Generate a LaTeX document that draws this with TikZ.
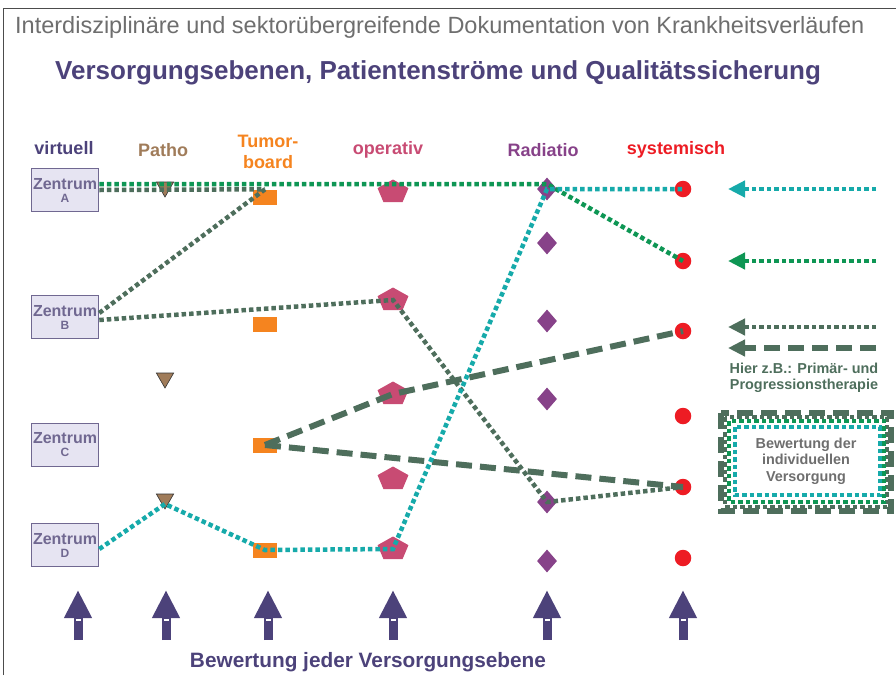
\documentclass[tikz,border=0pt]{standalone}
\usepackage{fontspec}
\setmainfont{Liberation Sans}
\usetikzlibrary{shapes.geometric,arrows.meta,calc}

\definecolor{virtcol}{RGB}{76,66,122}
\definecolor{pathcol}{RGB}{160,124,90}
\definecolor{tumcol}{RGB}{245,132,31}
\definecolor{opcol}{RGB}{200,75,115}
\definecolor{radcol}{RGB}{135,66,137}
\definecolor{syscol}{RGB}{237,28,36}
\definecolor{zfill}{RGB}{230,228,242}
\definecolor{zline}{RGB}{112,104,145}
\definecolor{cyancol}{RGB}{22,170,170}
\definecolor{greencol}{RGB}{14,150,84}
\definecolor{darkcol}{RGB}{78,110,92}
\definecolor{textgray}{RGB}{110,110,110}

\tikzset{
  zentrum/.style={draw=zline, fill=zfill, line width=1.6pt, minimum width=67pt, minimum height=43pt,
    inner sep=0pt, text=zline, font=\bfseries\fontsize{16}{16}\selectfont, align=center},
  head/.style={font=\bfseries\fontsize{18}{21}\selectfont, align=center},
  patho/.style={regular polygon, regular polygon sides=3, shape border rotate=180, fill=pathcol,
    draw=black!80, line width=0.6pt, minimum size=20pt, inner sep=0pt},
  tumor/.style={rectangle, fill=tumcol, minimum width=24pt, minimum height=15pt, inner sep=0pt},
  oper/.style={regular polygon, regular polygon sides=5, fill=opcol, minimum size=25pt, inner sep=0pt},
  radio/.style={diamond, fill=radcol, minimum width=20pt, minimum height=23pt, inner sep=0pt},
  syst/.style={circle, fill=syscol, minimum size=16.5pt, inner sep=0pt},
  dotline/.style={line width=4.5pt, dash pattern=on 4.5pt off 3pt},
  dashline/.style={line width=6pt, dash pattern=on 16pt off 8pt},
  legtip/.style={-{Triangle[length=17pt,width=16pt]}},
  legtext/.style={font=\bfseries\fontsize{14.4}{16.5}\selectfont, align=center}
}

\begin{document}
\begin{tikzpicture}[x=1pt, y=-1pt]
  \useasboundingbox (0,0) rectangle (896,675);
  \draw[black!70, line width=1pt] (3,675) -- (3,8) -- (896,8);

  % titles
  \node[anchor=west, inner sep=0pt, text=textgray, font=\fontsize{23.5}{24}\selectfont] (titel) at (15,27)
    {Interdisziplinäre und sektorübergreifende Dokumentation von Krankheitsverläufen};
  \node[anchor=west, inner sep=0pt, text=virtcol, font=\bfseries\fontsize{26}{27}\selectfont] (untertitel) at (55,73)
    {Versorgungsebenen, Patientenströme und Qualitätssicherung};

  % column heads
  \node[head, text=virtcol] (hz) at (64,148) {virtuell};
  \node[head, text=pathcol] (hp) at (163,150) {Patho};
  \node[head, text=tumcol] (ht) at (268,152) {Tumor-\\board};
  \node[head, text=opcol] (ho) at (388,150) {operativ};
  \node[head, text=radcol] (hr) at (543,150) {Radiatio};
  \node[head, text=syscol] (hs) at (676,150) {systemisch};

  % Zentren
  \foreach \y/\l [count=\i] in {190/A,317/B,445/C,545/D} {
    \node[zentrum] (z\i) at (65,\y) {Zentrum\\[-3pt]{\fontsize{12}{12}\selectfont\l}};
  }

  % markers of each level
  \foreach \y [count=\i] in {187,378,499} \node[patho] (p\i) at (165,\y) {};
  \foreach \y [count=\i] in {197,324,445,550} \node[tumor] (t\i) at (265,\y) {};
  \foreach \y [count=\i] in {192,300,394,479,549} {
    \begin{scope}[shift={(393,\y)}, xscale=1.3]
      \node[oper, transform shape] (o\i) at (0,0) {};
    \end{scope}
  }
  \foreach \y [count=\i] in {189,243,321,399,502,561} \node[radio] (r\i) at (547,\y) {};
  \foreach \y [count=\i] in {189,261,331,416,487,558} \node[syst] (s\i) at (683,\y) {};

  % patient flows
  \draw[dotline, greencol] ($(z1.east)+(0,-6)$) -- ($(r1.center)+(0,-5)$) -- (s2.center);
  \draw[dotline, darkcol] (z1.east) -- (t1.north);
  \draw[dotline, darkcol] ($(z2.east)+(0,-4)$) -- (t1.north);
  \draw[dotline, darkcol] ($(z2.east)+(0,3)$) -- (o2.center) -- (r5.center) -- (s5.center);
  \draw[dashline, darkcol] (t3.center) -- (o3.center) -- (s3.center);
  \draw[dashline, darkcol] (t3.center) -- (s5.center);
  \draw[dotline, cyancol] ($(z4.east)+(0,4)$) -- ($(p3.center)+(0,5)$) -- (t4.center) -- (o5.center)
    -- (r1.center) -- (s1.center);

  % legend
  \coordinate (l1) at (876,189); \coordinate (m1) at (728,189);
  \coordinate (l2) at (876,261); \coordinate (m2) at (728,261);
  \coordinate (l3) at (876,327); \coordinate (m3) at (728,327);
  \coordinate (l4) at (876,348); \coordinate (m4) at (728,348);
  \draw[dotline, cyancol, legtip] (l1) -- (m1);
  \draw[dotline, greencol, legtip] (l2) -- (m2);
  \draw[dotline, darkcol, legtip] (l3) -- (m3);
  \draw[dashline, darkcol, legtip] (l4) -- (m4);
  \node[legtext, text=darkcol] (hier) at (804,378) {Hier z.B.: Primär- und\\Progressionstherapie};

  \draw[dashline, darkcol] (721,413) rectangle (891,511);
  \draw[dotline, darkcol] (725,417) rectangle (887,507);
  \draw[dotline, greencol] (729,421) rectangle (884,502);
  \draw[dotline, cyancol] (735,427) rectangle (880,495);
  \node[legtext, text=textgray] (bewind) at (806,461) {Bewertung der\\individuellen\\Versorgung};

  % bottom arrows
  \foreach \x [count=\i] in {78,166,268,393,547,683} {
    \coordinate (b\i) at (\x,640);
    \coordinate (e\i) at (\x,590);
    \draw[virtcol, line width=9pt, -{Triangle[length=28pt,width=26pt]}] (b\i) -- (e\i);
    \fill[white] (\x-2.5,618.5) rectangle (\x+2.5,620.5);
  }
  \node[text=virtcol, font=\bfseries\fontsize{20.8}{21}\selectfont] (bew) at (368,662) {Bewertung jeder Versorgungsebene};
\end{tikzpicture}
\end{document}
